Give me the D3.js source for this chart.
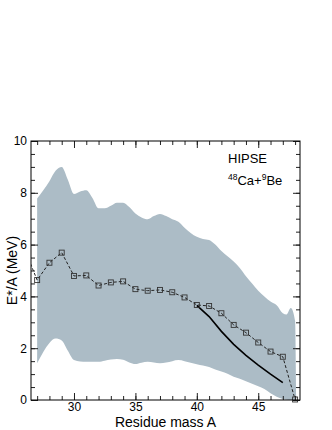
<!DOCTYPE html>
<html>
<head>
<meta charset="utf-8">
<script src="https://cdn.jsdelivr.net/npm/d3@7"></script>
<style>
  html, body { margin: 0; padding: 0; background: #fff; }
  svg { display: block; font-family: "Liberation Sans", Arial, sans-serif; }
</style>
</head>
<body>
<div id="chart"></div>
<script>
// band (HIPSE spread)
const bandMass = [27, 27.5, 28, 28.5, 29, 29.5, 30, 30.5, 31, 31.5, 32, 32.5, 33, 33.5, 34, 34.5, 35, 35.5, 36, 36.5, 37, 37.5, 38, 38.5, 39, 39.5, 40, 40.5, 41, 41.5, 42, 42.5, 43, 43.5, 44, 44.5, 45, 45.5, 46, 46.5, 47, 47.3, 47.65, 48, 48.1];
const bandHigh = [7.78, 8.1, 8.45, 8.85, 9.0, 8.5, 7.95, 8.05, 8.1, 7.8, 7.4, 7.4, 7.5, 7.62, 7.62, 7.45, 7.2, 7.05, 6.98, 7.1, 7.18, 7.1, 6.98, 6.88, 6.65, 6.45, 6.3, 6.22, 6.18, 6.0, 5.75, 5.55, 5.35, 5.1, 4.78, 4.5, 4.22, 4.0, 3.8, 3.66, 3.35, 3.3, 3.55, 3.05, 0];
const bandLow = [1.42, 1.85, 2.2, 2.37, 2.3, 1.9, 1.54, 1.49, 1.48, 1.48, 1.48, 1.52, 1.56, 1.58, 1.55, 1.45, 1.39, 1.44, 1.48, 1.45, 1.42, 1.45, 1.5, 1.54, 1.5, 1.44, 1.38, 1.33, 1.27, 1.18, 1.1, 1.01, 0.9, 0.82, 0.72, 0.63, 0.53, 0.42, 0.26, 0.13, 0.04, 0.01, 0, 0, 0];

// mean E*/A per residue mass (dashed, squares)
const meanMass = [26, 27, 28, 29, 30, 31, 32, 33, 34, 35, 36, 37, 38, 39, 40, 41, 42, 43, 44, 45, 46, 47, 48];
const meanValue = [5.8, 4.63, 5.3, 5.69, 4.79, 4.81, 4.42, 4.54, 4.58, 4.28, 4.22, 4.25, 4.16, 3.96, 3.67, 3.63, 3.35, 2.9, 2.6, 2.22, 1.87, 1.67, 0.02];

// solid reference curve
const refMass = [40, 41, 42, 43, 44, 45, 46, 47];
const refValue = [3.65, 3.22, 2.65, 2.15, 1.72, 1.35, 1.0, 0.67];

const xMajor = [30, 35, 40, 45];
const yMajor = [0, 2, 4, 6, 8, 10];

const width = 332;
const height = 430;
const margin = { top: 141, right: 32, bottom: 30, left: 31 };

const svg = d3.select('#chart')
  .append('svg')
  .attr('width', width)
  .attr('height', height);

const x = d3.scaleLinear()
  .domain([26.5, 48.4])
  .range([margin.left, width - margin.right]);

const y = d3.scaleLinear()
  .domain([0, 10])
  .range([height - margin.bottom, margin.top]);

svg.append('defs').append('clipPath')
  .attr('id', 'frame-clip')
  .append('rect')
  .attr('x', x.range()[0])
  .attr('y', y.range()[1])
  .attr('width', x.range()[1] - x.range()[0])
  .attr('height', y.range()[0] - y.range()[1]);

const plot = svg.append('g').attr('clip-path', 'url(#frame-clip)');

const band = bandMass.map((m, i) => ({ m, hi: bandHigh[i], lo: bandLow[i] }));

plot.append('path')
  .datum(band)
  .attr('fill', '#acbcc6')
  .attr('d', d3.area()
    .x(d => x(d.m))
    .y0(d => y(d.lo))
    .y1(d => y(d.hi))
    .curve(d3.curveMonotoneX));

const mean = meanMass.map((m, i) => ({ m, v: meanValue[i] }));

plot.append('path')
  .datum(mean)
  .attr('fill', 'none')
  .attr('stroke', '#222')
  .attr('stroke-width', 1)
  .attr('stroke-dasharray', '3,2')
  .attr('d', d3.line().x(d => x(d.m)).y(d => y(d.v)));

const ref = refMass.map((m, i) => ({ m, v: refValue[i] }));

plot.append('path')
  .datum(ref)
  .attr('fill', 'none')
  .attr('stroke', '#000')
  .attr('stroke-width', 1.6)
  .attr('d', d3.line().x(d => x(d.m)).y(d => y(d.v)));

svg.append('g')
  .selectAll('rect')
  .data(mean.filter(d => d.m >= x.domain()[0]))
  .enter().append('rect')
  .attr('x', d => x(d.m) - 2.5)
  .attr('y', d => y(d.v) - 2.5)
  .attr('width', 5)
  .attr('height', 5)
  .attr('fill', 'none')
  .attr('stroke', '#333')
  .attr('stroke-width', 0.9);

// axes, ticks pointing inward on all four sides
const xMinor = d3.range(27, 49);
const yMinor = d3.range(0, 10.01, 0.5);

function styleAxis(g) {
  g.select('.domain').remove();
  g.selectAll('.tick line').attr('stroke', '#222');
  g.selectAll('.tick text')
    .attr('fill', '#000')
    .attr('font-size', 12)
    .attr('font-family', '"Liberation Sans", Arial, sans-serif');
}

const bottomY = y.range()[0];
const topY = y.range()[1];
const leftX = x.range()[0];
const rightX = x.range()[1];

svg.append('g')
  .attr('transform', `translate(0,${bottomY})`)
  .call(d3.axisBottom(x).tickValues(xMinor).tickSize(-4).tickFormat(''))
  .call(styleAxis);
svg.append('g')
  .attr('transform', `translate(0,${bottomY})`)
  .call(d3.axisBottom(x).tickValues(xMajor).tickSize(-7).tickPadding(2).tickFormat(d3.format('d')))
  .call(styleAxis);
svg.append('g')
  .attr('transform', `translate(0,${topY})`)
  .call(d3.axisTop(x).tickValues(xMinor).tickSize(-4).tickFormat(''))
  .call(styleAxis);
svg.append('g')
  .attr('transform', `translate(0,${topY})`)
  .call(d3.axisTop(x).tickValues(xMajor).tickSize(-7).tickFormat(''))
  .call(styleAxis);

svg.append('g')
  .attr('transform', `translate(${leftX},0)`)
  .call(d3.axisLeft(y).tickValues(yMinor).tickSize(-4).tickFormat(''))
  .call(styleAxis);
svg.append('g')
  .attr('transform', `translate(${leftX},0)`)
  .call(d3.axisLeft(y).tickValues(yMajor).tickSize(-7).tickPadding(4).tickFormat(d3.format('d')))
  .call(styleAxis);
svg.append('g')
  .attr('transform', `translate(${rightX},0)`)
  .call(d3.axisRight(y).tickValues(yMinor).tickSize(-4).tickFormat(''))
  .call(styleAxis);
svg.append('g')
  .attr('transform', `translate(${rightX},0)`)
  .call(d3.axisRight(y).tickValues(yMajor).tickSize(-7).tickFormat(''))
  .call(styleAxis);

svg.append('rect')
  .attr('x', leftX)
  .attr('y', topY)
  .attr('width', rightX - leftX)
  .attr('height', bottomY - topY)
  .attr('fill', 'none')
  .attr('stroke', '#000')
  .attr('stroke-width', 1);

svg.append('text')
  .attr('x', (leftX + rightX) / 2)
  .attr('y', 427)
  .attr('text-anchor', 'middle')
  .attr('font-size', 14)
  .text('Residue mass A');

svg.append('text')
  .attr('transform', `translate(17,${(topY + bottomY) / 2}) rotate(-90)`)
  .attr('text-anchor', 'middle')
  .attr('font-size', 14)
  .text('E*/A (MeV)');

svg.append('text')
  .attr('x', 228)
  .attr('y', 163)
  .attr('font-size', 13)
  .text('HIPSE');

const reaction = svg.append('text')
  .attr('x', 228)
  .attr('y', 185)
  .attr('font-size', 13);
reaction.append('tspan').attr('font-size', 8.5).attr('dy', -5.5).text('48');
reaction.append('tspan').attr('dy', 5.5).text('Ca+');
reaction.append('tspan').attr('font-size', 8.5).attr('dy', -5.5).text('9');
reaction.append('tspan').attr('dy', 5.5).text('Be');
</script>
</body>
</html>
